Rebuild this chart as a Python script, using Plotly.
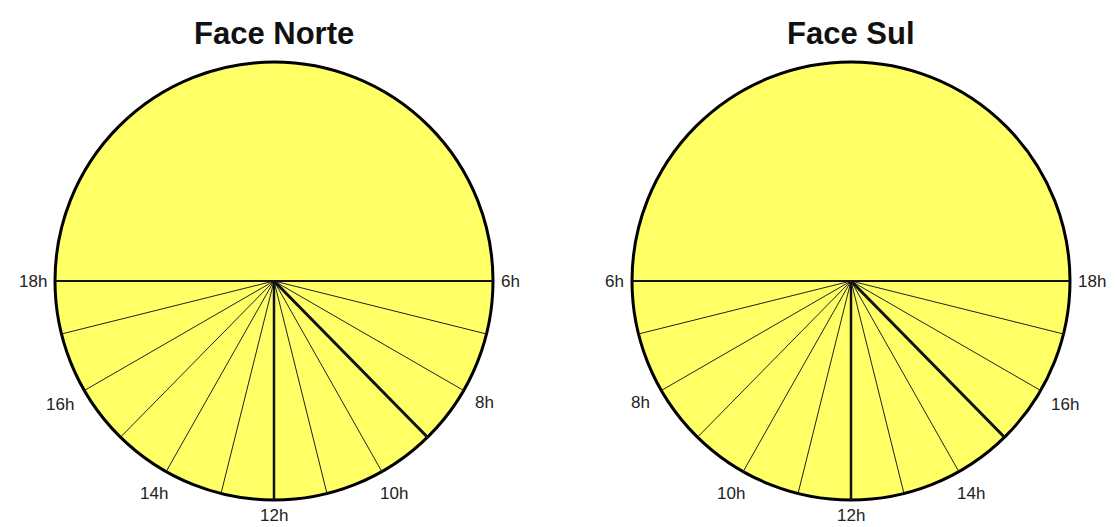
import numpy as np
import plotly.graph_objects as go

# ---- data ----
hours = [6, 7, 8, 9, 10, 11, 12, 13, 14, 15, 16, 17, 18]
# angle of each hour line measured from the noon (vertical) line, degrees;
# positive = towards the right on "Face Norte"
angle_from_noon = [90, 76, 60, 44.5, 29.5, 14, 0, -14, -29.5, -44.5, -60, -76, -90]
label_hours = [6, 8, 10, 12, 14, 16, 18]
label_texts = ["6h", "8h", "10h", "12h", "14h", "16h", "18h"]
faces = ["Face Norte", "Face Sul"]
face_mirror = [1, -1]           # Face Sul is the mirror image
heavy_hour = [9, 15]            # emphasised hour line on each face
horizon_hours = [6, 18]
noon_hours = [12]

# ---- layout constants (pixels) ----
W, H = 1115, 527
R_PX = 219.0
CX_PX = [274, 851]
CY_PX = 281
TITLE_Y_PX = 33
FILL = "#FFFF66"

def px_to_x(px):
    return (px - CX_PX[0]) / R_PX

def py_to_y(py):
    return (CY_PX - py) / R_PX

fig = go.Figure()

for fi, face in enumerate(faces):
    cx = px_to_x(CX_PX[fi])
    s = face_mirror[fi]
    # dial disc
    fig.add_shape(type="circle", xref="x", yref="y",
                  x0=cx - 1, x1=cx + 1, y0=-1, y1=1,
                  fillcolor=FILL, line=dict(color="black", width=3), layer="below")

    groups = {"thin": [], "heavy": [], "horizon": [], "noon": []}
    for h, a in zip(hours, angle_from_noon):
        ar = np.deg2rad(a)
        ex = cx + s * np.sin(ar)
        ey = -np.cos(ar)
        if h in horizon_hours:
            key = "horizon"
            ey = 0.0
        elif h in noon_hours:
            key = "noon"
        elif h == heavy_hour[fi]:
            key = "heavy"
        else:
            key = "thin"
        groups[key].append((ex, ey))

    styles = {"thin": (1.0, "#222222"), "heavy": (3.0, "#111111"),
              "horizon": (2.2, "#111111"), "noon": (2.5, "#111111")}
    for key, pts in groups.items():
        xs, ys = [], []
        for ex, ey in pts:
            xs += [cx, ex, None]
            ys += [0.0, ey, None]
        w, c = styles[key]
        fig.add_trace(go.Scatter(x=xs, y=ys, mode="lines",
                                 line=dict(color=c, width=w),
                                 hoverinfo="skip", showlegend=False))

    # hour labels
    for h, t in zip(label_hours, label_texts):
        a = angle_from_noon[hours.index(h)]
        ar = np.deg2rad(a)
        th = np.deg2rad(90 - abs(a))
        hw = 4.8 * len(t)
        gap = 8 if h in horizon_hours + noon_hours else 12
        off = gap + hw * abs(np.cos(th)) + 7 * abs(np.sin(th))
        rr = 1 + off / R_PX
        fig.add_annotation(x=cx + s * rr * np.sin(ar), y=-rr * np.cos(ar),
                           text=t, showarrow=False, xanchor="center", yanchor="middle",
                           font=dict(family="Liberation Sans", size=17, color="#222222"))

    # title
    fig.add_annotation(x=cx, y=py_to_y(TITLE_Y_PX), text="<b>%s</b>" % face,
                       showarrow=False, xanchor="center", yanchor="middle",
                       font=dict(family="Liberation Sans", size=31, color="#111111"))

fig.update_layout(
    width=W, height=H,
    margin=dict(l=0, r=0, t=0, b=0),
    paper_bgcolor="white", plot_bgcolor="white",
    xaxis=dict(range=[px_to_x(0), px_to_x(W)], visible=False, fixedrange=True),
    yaxis=dict(range=[py_to_y(H), py_to_y(0)], visible=False, fixedrange=True),
    showlegend=False,
)

fig.write_html("out.html", config={"displayModeBar": False},
               post_script="document.body.style.margin='0';document.body.style.overflow='hidden';")
